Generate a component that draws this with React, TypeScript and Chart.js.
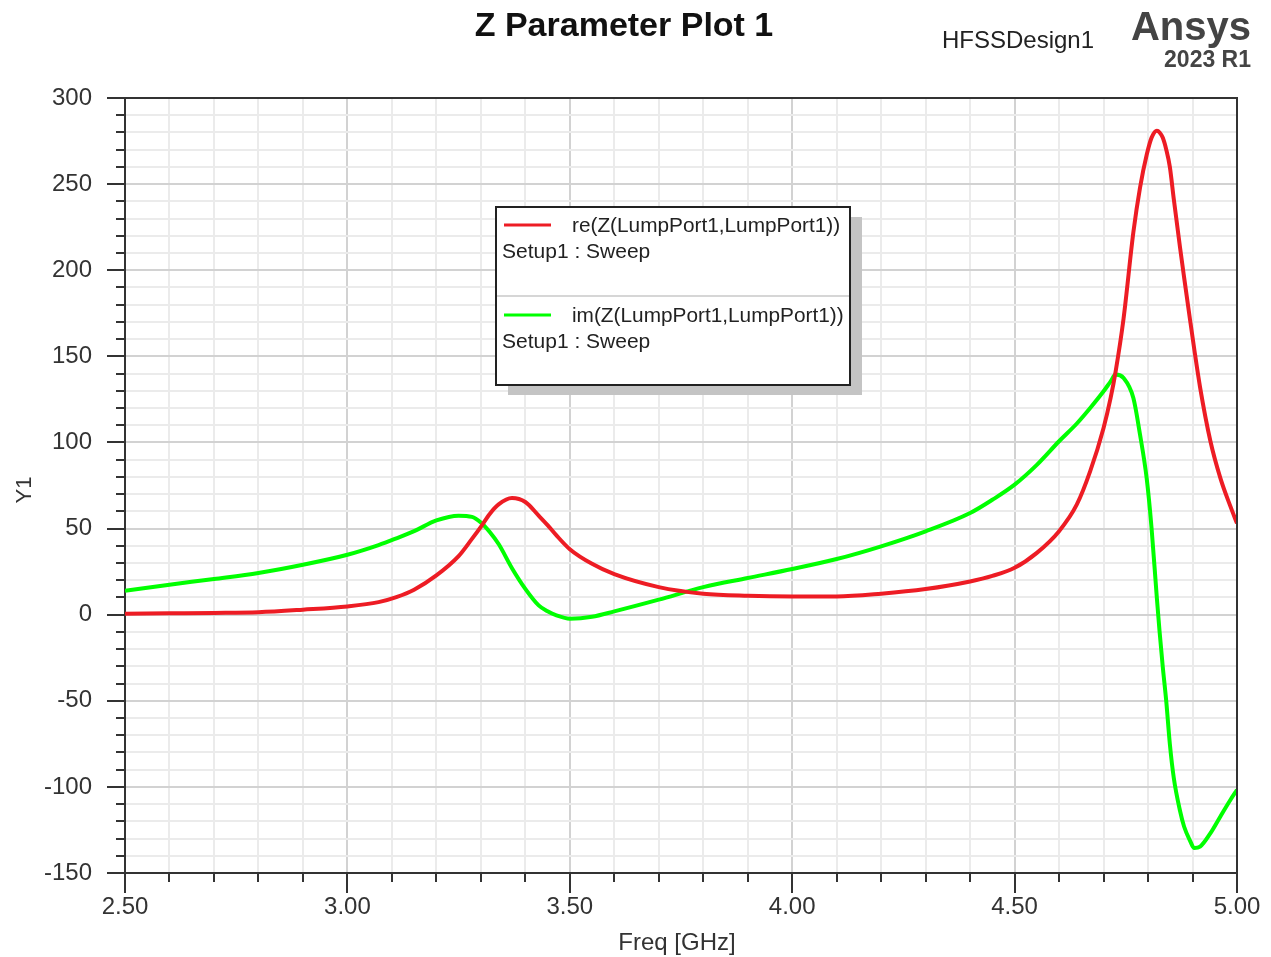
import React, { useEffect, useRef } from 'react';
import { Chart, registerables } from 'chart.js';

Chart.register(...registerables);

// Frequency sweep points (GHz)
const freqGHz = [
  2.5, 2.6, 2.7, 2.8, 2.9, 3.0, 3.07, 3.11, 3.15, 3.2, 3.25, 3.28, 3.3, 3.32, 3.34, 3.37, 3.4,
  3.43, 3.45, 3.47, 3.5, 3.55, 3.6, 3.7, 3.8, 3.9, 4.0, 4.1, 4.2, 4.3, 4.4, 4.45, 4.5,
  4.55, 4.6, 4.64, 4.67, 4.7, 4.716, 4.727, 4.745, 4.767, 4.782, 4.797, 4.808, 4.82, 4.826,
  4.833, 4.841, 4.849, 4.858, 4.872, 4.881, 4.894, 4.904, 4.917, 4.94, 4.963, 4.985, 5.0,
];

// re(Z(LumpPort1,LumpPort1))
const reZ = [
  0.6, 0.8, 1.0, 1.4, 2.9, 4.8, 7.3, 10.2, 14.5, 22.8, 34, 44, 51, 58.5, 64, 67.7, 65.4,
  57.5, 52, 46, 38, 29.5, 23.5, 16, 12.2, 11, 10.6, 10.6, 12.2, 14.9, 19.3, 22.5, 27.2,
  35.9, 48.5, 64, 83.3, 108.4, 126, 141, 172, 222, 248, 267, 277, 281, 280,
  277, 270, 260, 241, 213, 196, 172, 154, 132, 101, 79, 63, 53,
];

// im(Z(LumpPort1,LumpPort1))
const imZ = [
  13.9, 17.4, 20.7, 24.2, 29.0, 34.8, 40.4, 44.3, 48.5, 54.7, 57.5, 56.8, 53.5, 48, 41, 27, 15,
  5.4, 2, -0.4, -2.3, -1.2, 1.9, 8.7, 16, 21.3, 26.5, 32.3, 39.7, 48.4, 59, 66.7, 75.5,
  87, 100.7, 111, 120, 129.7, 135.5, 139.4, 137.4, 125.8, 104.5, 79, 50, 9, -10,
  -30, -50.4, -75, -95, -114, -123, -131, -135.5, -134.7, -127, -117, -107.6, -101.7,
];

const xRange = [2.5, 5.0];
const yRange = [-150, 300];
const xMajorStep = 0.5;
const xMinorStep = 0.1;
const yMajorStep = 50;
const yMinorStep = 10;

const seriesNames = ['re(Z(LumpPort1,LumpPort1))', 'im(Z(LumpPort1,LumpPort1))'];
const setupName = 'Setup1 : Sweep';
const RED = 'rgb(237,28,36)';
const GREEN = 'rgb(0,255,0)';
const FONT = "'Liberation Sans', Arial, sans-serif";

const isMultiple = (v: number, step: number) => Math.abs(v / step - Math.round(v / step)) < 1e-6;

const decorPlugin = {
  id: 'hfssDecor',
  afterDraw(chart: any) {
    const ctx = chart.ctx as CanvasRenderingContext2D;
    const area = chart.chartArea;
    const xs = chart.scales.x;
    const ys = chart.scales.y;
    ctx.save();

    // frame (top & right)
    ctx.strokeStyle = '#333';
    ctx.lineWidth = 2;
    ctx.beginPath();
    ctx.moveTo(area.left, area.top);
    ctx.lineTo(area.right, area.top);
    ctx.lineTo(area.right, area.bottom);
    ctx.stroke();

    // tick marks
    ctx.lineWidth = 2;
    for (let v = yRange[0]; v <= yRange[1] + 1e-9; v += yMinorStep) {
      const len = isMultiple(v, yMajorStep) ? 18 : 9;
      const py = Math.round(ys.getPixelForValue(v));
      ctx.beginPath();
      ctx.moveTo(area.left - len, py);
      ctx.lineTo(area.left, py);
      ctx.stroke();
    }
    for (let i = 0; i <= Math.round((xRange[1] - xRange[0]) / xMinorStep); i++) {
      const v = xRange[0] + i * xMinorStep;
      const len = isMultiple(v, xMajorStep) ? 20 : 9;
      const px = Math.round(xs.getPixelForValue(v));
      ctx.beginPath();
      ctx.moveTo(px, area.bottom);
      ctx.lineTo(px, area.bottom + len);
      ctx.stroke();
    }

    // titles
    ctx.fillStyle = '#111';
    ctx.textBaseline = 'middle';
    ctx.textAlign = 'center';
    ctx.font = `bold 34px ${FONT}`;
    ctx.fillText('Z Parameter Plot 1', 624, 27);

    ctx.fillStyle = '#222';
    ctx.textAlign = 'left';
    ctx.font = `24px ${FONT}`;
    ctx.fillText('HFSSDesign1', 942, 41);

    ctx.fillStyle = '#444';
    ctx.textAlign = 'right';
    ctx.font = `bold 40px ${FONT}`;
    ctx.fillText('Ansys', 1251, 29);
    ctx.font = `bold 23px ${FONT}`;
    ctx.fillText('2023 R1', 1251, 61);

    // axis titles
    ctx.fillStyle = '#333';
    ctx.textAlign = 'center';
    ctx.font = `24px ${FONT}`;
    ctx.fillText('Freq [GHz]', 677, 943);
    ctx.save();
    ctx.translate(25, 490);
    ctx.rotate(-Math.PI / 2);
    ctx.font = `22px ${FONT}`;
    ctx.fillText('Y1', 0, 0);
    ctx.restore();

    // legend box
    const bx = 496, by = 207, bw = 354, bh = 178;
    ctx.fillStyle = '#c4c4c4';
    ctx.fillRect(bx + 12, by + 10, bw, bh);
    ctx.fillStyle = '#fff';
    ctx.fillRect(bx, by, bw, bh);
    ctx.strokeStyle = '#222';
    ctx.lineWidth = 2;
    ctx.strokeRect(bx, by, bw, bh);
    ctx.strokeStyle = '#c8c8c8';
    ctx.lineWidth = 1.5;
    ctx.beginPath();
    ctx.moveTo(bx + 1, 296);
    ctx.lineTo(bx + bw - 1, 296);
    ctx.stroke();

    const entries = [
      { color: RED, name: seriesNames[0], y: 225 },
      { color: GREEN, name: seriesNames[1], y: 315 },
    ];
    for (const e of entries) {
      ctx.strokeStyle = e.color;
      ctx.lineWidth = 3;
      ctx.beginPath();
      ctx.moveTo(504, e.y);
      ctx.lineTo(551, e.y);
      ctx.stroke();
      ctx.fillStyle = '#222';
      ctx.textAlign = 'left';
      ctx.font = `20.8px ${FONT}`;
      ctx.fillText(e.name, 572, e.y + 1);
      ctx.font = `21px ${FONT}`;
      ctx.fillText(setupName, 502, e.y + 27);
    }
    ctx.restore();
  },
};

export default function App() {
  const canvasRef = useRef<HTMLCanvasElement | null>(null);

  useEffect(() => {
    const canvas = canvasRef.current;
    if (!canvas) return;
    Chart.defaults.font.family = FONT;
    const toPoints = (vals: number[]) => freqGHz.map((f, i) => ({ x: f, y: vals[i] }));
    const chart = new Chart(canvas, {
      type: 'line',
      data: {
        datasets: [
          {
            label: seriesNames[0],
            data: toPoints(reZ),
            borderColor: RED,
            borderWidth: 4,
            pointRadius: 0,
            cubicInterpolationMode: 'monotone',
            fill: false,
          },
          {
            label: seriesNames[1],
            data: toPoints(imZ),
            borderColor: GREEN,
            borderWidth: 4,
            pointRadius: 0,
            cubicInterpolationMode: 'monotone',
            fill: false,
          },
        ],
      },
      plugins: [decorPlugin],
      options: {
        animation: false,
        responsive: false,
        devicePixelRatio: 1,
        layout: { padding: { top: 98, right: 34, left: 0, bottom: 0 } },
        plugins: {
          legend: { display: false },
          title: { display: false },
          tooltip: { enabled: false },
        },
        scales: {
          x: {
            type: 'linear',
            min: xRange[0],
            max: xRange[1],
            afterFit: (scale: any) => {
              scale.height = 84;
              scale.paddingLeft = 0;
              scale.paddingRight = 0;
            },
            ticks: {
              stepSize: xMinorStep,
              autoSkip: false,
              maxRotation: 0,
              padding: 20,
              color: '#333',
              font: { size: 24, family: FONT },
              callback: (v: any) => (isMultiple(Number(v), xMajorStep) ? Number(v).toFixed(2) : ''),
            },
            grid: {
              drawTicks: false,
              lineWidth: 2,
              color: (c: any) => (c.tick && isMultiple(c.tick.value, xMajorStep) ? '#d2d2d2' : '#ebebeb'),
            },
            border: { display: true, color: '#333', width: 2 },
          },
          y: {
            type: 'linear',
            min: yRange[0],
            max: yRange[1],
            afterFit: (scale: any) => {
              scale.width = 125;
              scale.paddingTop = 0;
              scale.paddingBottom = 0;
            },
            ticks: {
              stepSize: yMinorStep,
              autoSkip: false,
              padding: 33,
              color: '#333',
              font: { size: 24, family: FONT },
              callback: (v: any) => (isMultiple(Number(v), yMajorStep) ? String(Math.round(Number(v))) : ''),
            },
            grid: {
              drawTicks: false,
              lineWidth: 2,
              color: (c: any) => (c.tick && isMultiple(c.tick.value, yMajorStep) ? '#d2d2d2' : '#ebebeb'),
            },
            border: { display: true, color: '#333', width: 2 },
          },
        },
      },
    } as any);
    return () => chart.destroy();
  }, []);

  return (
    <div style={{ position: 'absolute', left: 0, top: 0, width: 1271, height: 957, background: '#fff' }}>
      <canvas ref={canvasRef} width={1271} height={957} style={{ display: 'block' }} />
    </div>
  );
}
